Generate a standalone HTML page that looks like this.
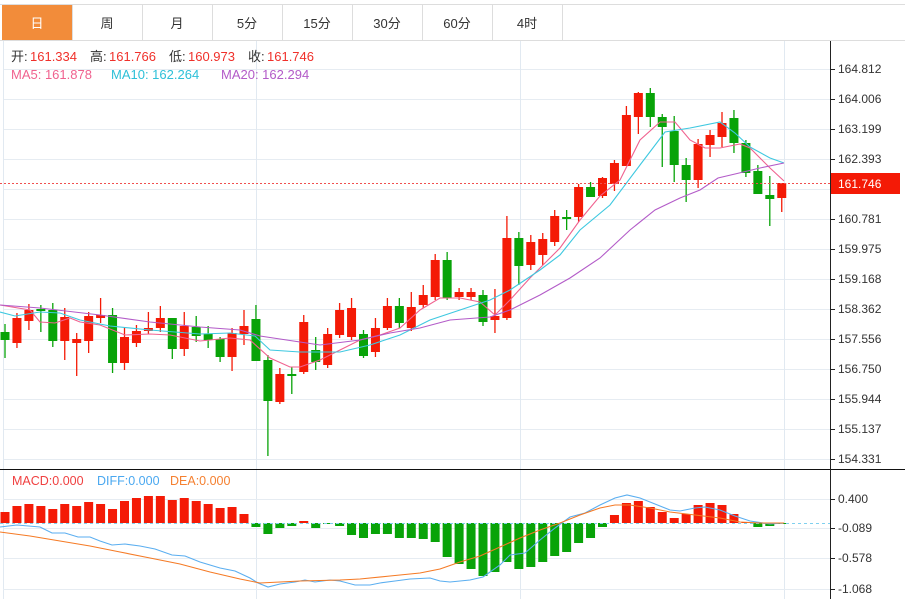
<!DOCTYPE html>
<html><head><meta charset="utf-8"><style>
body{margin:0;background:#fff;width:905px;height:599px;overflow:hidden;font-family:"Liberation Sans","Noto Sans CJK SC",sans-serif}
svg{position:absolute;left:0;top:0}
</style></head><body>
<svg id="s" width="905" height="599" xmlns="http://www.w3.org/2000/svg" font-family="Liberation Sans, Noto Sans CJK SC, sans-serif"></svg>
<script>
var s=document.getElementById('s'),h='';
function L(x1,y1,x2,y2,c,w,d){h+='<line x1="'+x1+'" y1="'+y1+'" x2="'+x2+'" y2="'+y2+'" stroke="'+c+'" stroke-width="'+(w||1)+'"'+(d?' stroke-dasharray="'+d+'"':'')+'/>';}
function R(x,y,w,hh,c){h+='<rect x="'+x+'" y="'+y+'" width="'+w+'" height="'+hh+'" fill="'+c+'"/>';}
function T(x,y,t,c,sz,a){h+='<text x="'+x+'" y="'+y+'" fill="'+c+'" font-size="'+(sz||12)+'"'+(a?' text-anchor="'+a+'"':'')+'>'+t+'</text>';}
function P(pts,c,w){h+='<polyline fill="none" stroke="'+c+'" stroke-width="'+(w||1)+'" points="'+pts.map(p=>p.join(',')).join(' ')+'"/>';}
var tabs=['日','周','月','5分','15分','30分','60分','4时'];
L(0,4.5,905,4.5,'#ddd');L(0,40.5,905,40.5,'#ddd');
for(var i=0;i<8;i++){var x=2+i*70;if(i==0)R(2,5,70,35,'#f28c3a');L(x+70.5,5,x+70.5,40,'#ddd');T(x+35,28,tabs[i],i==0?'#fff':'#333',13,'middle');}
var gl=[69,99,129,159,189,219,249,279,309,339,369,399,429,459];
gl.forEach(y=>L(3,y+.5,830,y+.5,'#e6ecf2'));
[256.5,520.5,784.5].forEach(x=>{L(x,41,x,599,'#e1e9f1');});
L(3.5,41,3.5,599,'#e1e9f1');
[499,528,558,589].forEach(y=>L(3,y+.5,830,y+.5,'#e6ecf2'));
L(0,469.5,905,469.5,'#111');
L(830.5,41,830.5,599,'#222');
var lab=['164.812','164.006','163.199','162.393','161.587','160.781','159.975','159.168','158.362','157.556','156.750','155.944','155.137','154.331'];
gl.forEach((y,i)=>{L(830,y+.5,835,y+.5,'#222');T(838,y+4,lab[i],'#333',12);});
[[499,'0.400'],[528,'-0.089'],[558,'-0.578'],[589,'-1.068']].forEach(a=>{L(830,a[0]+.5,835,a[0]+.5,'#222');T(838,a[0]+4,a[1],'#333',12);});
var C=[['g',332,340,324,358],['r',318,343,313,348],['r',310,321,304,330],['g',309,310,305,332],['g',310,341,303,347],['r',317,341,308,360],['r',339,343,333,376],['r',316,341,312,353],['r',315,318,298,323],['g',315,363,308,373],['r',337,363,327,370],['r',331,343,325,347],['r',328,331,312,334],['r',318,328,306,332],['g',318,349,318,359],['r',326,349,312,356],['g',327,336,316,342],['g',334,340,326,348],['g',339,357,337,362],['r',333,357,328,371],['r',326,334,310,345],['g',319,361,305,361],['g',360,401,355,456],['r',374,402,368,404],['g',374,376,367,394],
['r',322,372,315,374],['g',350,362,337,370],['r',334,365,328,368],['r',310,335,303,338],['r',308,337,298,340],['g',334,356,330,358],['r',328,352,318,357],['r',306,328,298,330],['g',306,323,298,328],['r',307,328,292,331],['r',295,305,285,308],['r',260,297,254,300],['g',260,298,252,300],['r',292,297,288,300],['r',292,297,288,300],['g',295,322,290,326],['r',316,320,289,333],['r',238,318,216,320],['g',238,266,232,285],['r',242,265,235,270],['r',239,255,233,265],['r',216,242,210,246],['g',217,219,210,230],['r',187,217,184,222],['g',187,197,182,197],['r',178,196,177,198],['r',163,184,160,191],['r',115,166,106,166],['r',93,117,92,134],['g',93,117,88,127],['g',117,127,114,167],['g',131,165,116,182],['g',165,180,158,202],['r',144,180,139,188],['r',135,145,130,157],['r',123,137,112,147],['g',118,143,110,153],['g',143,173,140,177],['g',171,194,165,194],['g',195,199,176,226],['r',183,198,183,212]];
var RC='#f41a06',GC='#08a308';
C.forEach((c,i)=>{var x=5+i*11.95,col=c[0]=='r'?RC:GC;L(x,c[3],x,c[4],col,1.3);R(x-4.5,c[1],9,Math.max(2,c[2]-c[1]),col);});
P([[0,305],[30,310],[40,322],[55,323],[70,318],[80,322],[100,325],[125,335],[150,334],[170,335],[200,341],[230,338],[250,340],[270,358],[290,367],[300,367],[320,360],[340,350],[360,340],[380,335],[400,328],[420,310],[440,298],[460,298],[480,302],[495,315],[510,300],[530,278],[560,248],[580,220],[600,196],[620,180],[640,140],[660,122],[675,122],[690,140],[705,148],[720,148],[740,144],[750,148],[770,168],[784,181]],'#f0628f',1.1);
P([[0,312],[15,316],[40,312],[60,313],[80,320],[110,326],[150,330],[200,334],[230,333],[255,336],[270,350],[300,352],[340,352],[370,345],[400,335],[430,320],[460,310],[490,300],[510,290],[540,270],[560,255],[580,230],[610,205],[640,165],[665,132],[690,128],[720,122],[735,133],[750,147],[770,158],[784,163]],'#3ec8e0',1.1);
P([[0,305],[40,308],[100,315],[150,322],[200,327],[240,330],[260,336],[300,342],[320,345],[360,340],[390,333],[420,328],[450,320],[490,317],[510,310],[540,295],[570,278],[600,258],[630,230],[655,210],[680,198],[700,190],[718,178],[735,174],[760,168],[784,163]],'#b35bc8',1.1);
L(0,183.5,830,183.5,'#f05050',1,'2,2');
R(831,173,69,21,'#f41a06');T(838,188,'161.746','#fff',12);
var R2='#f0302a';
T(11,61,'开:','#333',13);T(30,61,'161.334',R2,13);
T(90,61,'高:','#333',13);T(109,61,'161.766',R2,13);
T(169,61,'低:','#333',13);T(188,61,'160.973',R2,13);
T(248,61,'收:','#333',13);T(267,61,'161.746',R2,13);
T(11,79,'MA5: 161.878','#f0628f',13);T(111,79,'MA10: 162.264','#2ec0d8',13);T(221,79,'MA20: 162.294','#b35bc8',13);
T(12,485,'MACD:0.000','#f04040',12.5);T(97,485,'DIFF:0.000','#4aa8f0',12.5);T(170,485,'DEA:0.000','#f58030',12.5);
var Z=523,H=[512,506,504,506,509,504,506,502,504,509,501,498,496,496,500,498,501,504,508,507,514,527,534,528,526,521,528,524,526,535,538,534,534,538,538,539,542,557,564,569,576,572,562,569,567,562,556,552,543,538,527,515,503,501,507,512,518,514,505,503,505,514,522,527,526,524];
H.forEach((y,i)=>{var x=5+i*11.95;if(y<Z)R(x-4.5,y,9,Z-y,RC);else R(x-4.5,Z,9,Math.max(1,y-Z),GC);});
L(0,523.5,830,523.5,'#7fd0ef',1,'3,3');
P([[0,527],[17,525],[40,527],[52,533],[65,533],[78,537],[90,537],[100,541],[112,545],[125,544],[140,546],[155,549],[172,555],[185,556],[200,562],[220,568],[235,571],[250,578],[258,583],[268,587],[280,584],[295,582],[305,580],[315,582],[330,580],[340,581],[355,585],[370,585],[380,583],[395,581],[410,579],[430,578],[440,581],[450,582],[470,580],[483,577],[500,565],[510,555],[525,553],[540,540],[555,528],[570,517],[585,513],[600,505],[615,498],[627,495],[640,498],[655,504],[670,510],[680,511],[695,508],[705,507],[720,510],[735,516],[750,521],[770,524],[784,523]],'#5aaef0',1.1);
P([[0,532],[30,536],[60,541],[90,546],[120,552],[150,558],[180,564],[210,572],[240,579],[260,583],[280,582],[300,581],[340,580],[360,579],[390,576],[420,573],[440,569],[460,562],[480,556],[500,547],[520,538],[540,530],[560,523],[580,515],[600,508],[615,505],[630,505],[650,508],[670,512],[695,515],[720,518],[740,522],[760,523],[784,523]],'#f57a25',1.1);
s.innerHTML=h;
</script>
</body></html>
